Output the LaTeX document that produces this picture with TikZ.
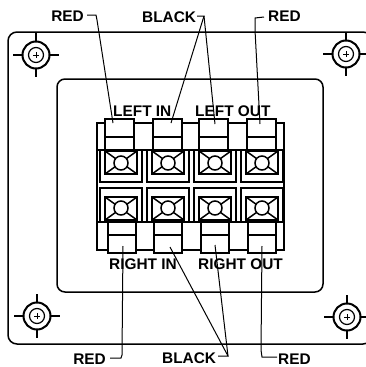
\documentclass[tikz,border=0pt]{standalone}
\usepackage{fontspec}
\setmainfont{Liberation Sans}
\tikzset{
 pl/.style={line width=1.5pt,black},
 thk/.style={line width=2.4pt,black},
 thin1/.style={line width=1.2pt,black},
 lead/.style={line width=1pt,black},
 lab/.style={font=\bfseries\fontsize{15.4}{16}\selectfont,inner sep=0pt,text=black}
}
\newcommand{\screw}[2]{%
 \draw[line width=2pt] (#1,#2) circle (13.5);
 \draw[thin1] (#1,#2) circle (7.5);
 \draw[thin1] (#1-23,#2)--(#1-14,#2) (#1+14,#2)--(#1+23,#2) (#1,#2-22)--(#1,#2-14) (#1,#2+14)--(#1,#2+22);
 \draw[line width=.8pt] (#1-3,#2)--(#1+3,#2) (#1,#2-3)--(#1,#2+3);
}
% x = frame left; top terminal
\newcommand{\termtop}[1]{%
 \draw[pl] (#1,150)--(#1,182)--(#1+42,182)--(#1+42,150);
 \draw[thk] (#1+5,151) rectangle (#1+37,174);
 \draw[pl] (#1+5,151)--(#1+37,174) (#1+37,151)--(#1+5,174);
 \fill[white] (#1+21,163) circle (7);
 \draw[pl] (#1+21,163) circle (7);
}
\newcommand{\termbot}[1]{%
 \draw[pl] (#1,222)--(#1,188)--(#1+42,188)--(#1+42,222);
 \draw[thk] (#1+5,197) rectangle (#1+37,220);
 \draw[pl] (#1+5,197)--(#1+37,220) (#1+37,197)--(#1+5,220);
 \fill[white] (#1+21,208) circle (7);
 \draw[pl] (#1+21,208) circle (7);
}
\begin{document}
\begin{tikzpicture}[x=1pt,y=-1pt]
\useasboundingbox (0,0) rectangle (366,367);
\clip (0,0) rectangle (366,367);
\draw[pl,rounded corners=9pt] (8,32) rectangle (372,344);
\draw[pl,rounded corners=8pt] (57,79) rectangle (323,292);
\screw{36}{55}\screw{346}{54}\screw{37}{316}\screw{347}{317}
% block
\draw[pl] (97,123) rectangle (284,250);
\draw[thk] (97,150)--(284,150);
\draw[thk] (97,222)--(284,222);
\foreach \x in {105,153,199,247}{\fill[white](\x,119) rectangle (\x+29,150);\draw[pl] (\x,119) rectangle (\x+29,150);\draw[thin1] (\x,137)--(\x+29,137);}
\foreach \x in {100,147,194,241}{\termtop{\x}\termbot{\x}}
\foreach \x in {108,154,201,248}{\fill[white](\x,222) rectangle (\x+28,253);\draw[pl] (\x,222) rectangle (\x+28,253);\draw[thin1] (\x,235)--(\x+28,235);}
% leads
\coordinate (t1) at (113,123);\coordinate (t2) at (171,123);\coordinate (t3) at (215,124);\coordinate (t4) at (260,124);
\coordinate (u1) at (123,246);\coordinate (u2) at (170,247);\coordinate (u3) at (215,245);\coordinate (u4) at (262,246);
% labels
\node[lab,anchor=base west] (li) at (113,116) {LEFT IN};
\node[lab,anchor=base west] (lo) at (195,116) {LEFT OUT};
\node[lab,anchor=base west] (ri) at (109,269) {RIGHT IN};
\node[lab,anchor=base west] (ro) at (198,269) {RIGHT OUT};
\node[lab,anchor=base east] (r1) at (84,21) {RED};
\node[lab,anchor=base west] (b1) at (142,22) {BLACK};
\node[lab,anchor=base west] (r2) at (268,21) {RED};
\node[lab,anchor=base east] (r3) at (106,364) {RED};
\node[lab,anchor=base west] (b2) at (162,363) {BLACK};
\node[lab,anchor=base west] (r4) at (278,364) {RED};
\draw[lead] (87,15)--(96,15)--(97,20)--(t1);
\draw[lead] (197,16)--(204,16)--(t2);
\draw[lead] (204,16)--(t3);
\draw[lead] (264,17)--(255,18)--(255,30)--(t4);
\draw[lead] (110,358)--(121,358)--(122,355)--(u1);
\draw[lead] (218,356)--(228,356)--(u2);
\draw[lead] (228,356)--(u3);
\draw[lead] (277,357)--(262,357)--(261,350)--(u4);
\end{tikzpicture}
\end{document}
